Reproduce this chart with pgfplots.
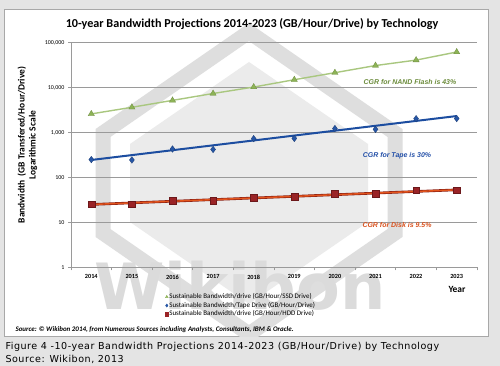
\documentclass[border=0pt]{standalone}
\usepackage{pgfplots}
\pgfplotsset{compat=1.18}
\usepackage{fontspec}
\setmainfont{Carlito}
\newfontfamily\arialfont{Liberation Sans}
\newfontfamily\wmfont{DejaVu Sans}
\newfontfamily\capfont[LetterSpace=5.5]{DejaVu Sans}
\definecolor{bggray}{HTML}{E4E4E4}
\definecolor{boxline}{HTML}{A8A8A8}
\definecolor{gridc}{HTML}{9A9A9A}
\definecolor{ssdm}{HTML}{8DB356}
\definecolor{ssdl}{HTML}{A9C77F}
\definecolor{tapem}{HTML}{2656A6}
\definecolor{tapel}{HTML}{1C4DA0}
\definecolor{diskm}{HTML}{9A2326}
\definecolor{diskd}{HTML}{8A1E12}
\definecolor{diskl}{HTML}{E4561E}
\definecolor{txtg}{HTML}{6C8C3C}
\definecolor{txtb}{HTML}{2450A8}
\definecolor{txto}{HTML}{D9521E}
\definecolor{wmband}{HTML}{DEDEDE}
\definecolor{wmfill}{HTML}{EBEBEB}
\definecolor{wmtext}{HTML}{DBDBDB}
\begin{document}
\begin{tikzpicture}
\path[use as bounding box] (0,0) rectangle (500bp,366bp);
\fill[bggray] (0,0) rectangle (500bp,366bp);
\fill[white,draw=boxline,line width=0.8bp] (4bp,29.3bp) rectangle (488bp,356.7bp);
% watermark
\begin{scope}
\clip (4.4bp,29.7bp) rectangle (487.6bp,356.3bp);
\fill[wmfill] (249bp,304bp) -- (368bp,222bp) -- (368bp,144bp) -- (249bp,62bp) -- (130bp,144bp) -- (130bp,222bp) -- cycle;
\draw[wmband,line width=15bp,line join=miter] (249bp,334bp) -- (395bp,233bp) -- (395bp,133bp) -- (249bp,32bp) -- (103bp,133bp) -- (103bp,233bp) -- cycle;
\end{scope}
\node[wmtext,anchor=base,inner sep=0pt,font=\wmfont\bfseries\fontsize{64}{64}\selectfont] at (240bp,56bp) {Wikibon};
\begin{axis}[
  at={(71bp,98.7bp)}, anchor=south west,
  scale only axis, width=406bp, height=224.6bp,
  ymode=log, log basis y=10,
  ymin=1, ymax=100000,
  xmin=2013.5, xmax=2023.5,
  axis lines=left, axis line style={-, gridc, line width=0.7bp},
  ytick={1,10,100,1000,10000,100000},
  yticklabels={1,10,100,{1,000},{10,000},{100,000}},
  yticklabel style={font=\fontsize{6}{7}\selectfont},
  minor ytick={},
  ymajorgrids, major grid style={gridc, line width=0.7bp},
  xtick={2014,...,2023},
  xticklabels={2014,2015,2016,2017,2018,2019,2020,2021,2022,2023},
  xticklabel style={font=\bfseries\fontsize{6.3}{7}\selectfont, yshift=-1bp},
  minor xtick={2013.5,2014.5,...,2023.5},
  tick align=outside, major tick length=3bp, minor tick length=3bp,
  tick style={gridc, line width=0.7bp},
  x tick style={draw=none},
  minor x tick style={draw=gridc, line width=0.7bp},
  legend style={at={(0.2315,-0.112)}, anchor=north west, draw=none, fill=none,
    font=\fontsize{7}{8}\selectfont, inner sep=0pt, row sep=0bp,
    nodes={inner sep=1bp}},
  legend cell align=left,
  legend image code/.code={\draw[#1,mark size=1.6pt] plot coordinates {(0.12cm,0cm)};},
  clip=false,
]
\addlegendimage{only marks, mark=triangle*, color=ssdm}
\addlegendentry{Sustainable Bandwidth/drive (GB/Hour/SSD Drive)}
\addlegendimage{only marks, mark=diamond*, color=tapem}
\addlegendentry{Sustainable Bandwidth/Tape Drive (GB/Hour/Drive)}
\addlegendimage{only marks, mark=square*, color=diskm}
\addlegendentry{Sustainable Bandwidth/drive (GB/Hour/HDD Drive)}
% SSD
\addplot[forget plot, ssdl, line width=1.4bp, mark=triangle*, mark size=3.6pt, mark options={fill=ssdm, draw=ssdm!80!black, line width=0.3bp}] coordinates {
 (2014,2600) (2015,3650) (2016,5200) (2017,7400) (2018,10300) (2019,15000) (2020,21500) (2021,31000) (2022,41000) (2023,62000)};
% Tape trend
\addplot[forget plot, tapel, line width=2bp] coordinates {(2014,245) (2023,2330)};
\addplot[forget plot, only marks, mark=diamond*, mark size=3.3pt, mark options={fill=tapem, draw=tapem!70!black, line width=0.3bp}] coordinates {
 (2014,250) (2015,245) (2016,430) (2017,420) (2018,730) (2019,740) (2020,1230) (2021,1180) (2022,2030) (2023,2050)};
% Disk
\addplot[forget plot, only marks, mark=square*, mark size=3.4pt, mark options={fill=diskm, draw=diskm!70!black, line width=0.3bp}] coordinates {
 (2014,25.5) (2015,25.5) (2016,31) (2017,30.5) (2018,36) (2019,37) (2020,44) (2021,44) (2022,52) (2023,52)};
\addplot[forget plot, diskd, line width=2.6bp] coordinates {(2014,25) (2023,53)};
\addplot[forget plot, diskl, line width=1.4bp] coordinates {(2014,25) (2023,53)};
\end{axis}
% texts
\node[font=\bfseries\fontsize{12.2}{13}\selectfont] at (252bp,342bp) {10-year Bandwidth Projections 2014-2023 (GB/Hour/Drive) by Technology};
\node[rotate=90, align=center, font=\bfseries\fontsize{9.5}{11}\selectfont] at (27.5bp,221bp) {Bandwidth\ \ (GB Transfered/Hour/Drive)\\Logarithmic Scale};
\node[font=\bfseries\fontsize{9.5}{10}\selectfont] at (457bp,77bp) {Year};
\node[txtg, font=\arialfont\bfseries\itshape\fontsize{7}{8}\selectfont] at (410bp,284bp) {CGR for NAND Flash is 43\%};
\node[txtb, font=\arialfont\bfseries\itshape\fontsize{7}{8}\selectfont] at (397bp,210bp) {CGR for Tape is 30\%};
\node[txto, font=\arialfont\bfseries\itshape\fontsize{7}{8}\selectfont] at (397bp,141bp) {CGR for Disk is 9.5\%};
\node[anchor=west, font=\bfseries\itshape\fontsize{7}{8}\selectfont] at (12bp,36bp) {Source: \textcopyright\ Wikibon 2014, from Numerous Sources including Analysts, Consultants, IBM \& Oracle.};
\node[anchor=west, font=\capfont\fontsize{9.6}{11}\selectfont] at (2bp,19.5bp) {Figure 4 -10-year Bandwidth Projections 2014-2023 (GB/Hour/Drive) by Technology};
\node[anchor=west, font=\capfont\fontsize{9.6}{11}\selectfont] at (2bp,6.5bp) {Source: Wikibon, 2013};
\end{tikzpicture}
\end{document}
